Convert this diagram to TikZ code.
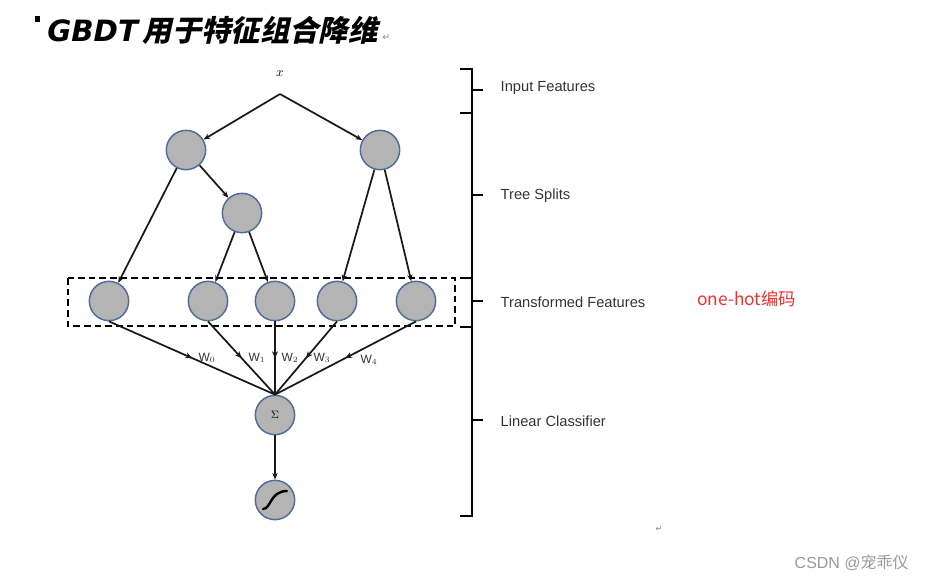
\documentclass[tikz,border=0pt]{standalone}
\usepackage{fontspec}
\setmainfont{Liberation Sans}
\newfontfamily\cjk{Noto Sans CJK SC}
\newfontfamily\titlefont{Noto Sans CJK SC}[FakeSlant=0.22]
\newfontfamily\symfont{DejaVu Sans}
\usetikzlibrary{arrows.meta,decorations.markings}
\definecolor{nodefill}{HTML}{B4B4B4}
\definecolor{nodeline}{HTML}{4F6D9A}
\definecolor{labtext}{HTML}{333333}
\definecolor{hotred}{HTML}{F03030}
\begin{document}
\begin{tikzpicture}[x=0.75pt,y=-0.75pt,
  neuron/.style={circle,draw=nodeline,fill=nodefill,line width=1.1pt,minimum size=29.5pt,inner sep=0pt},
  edge/.style={line width=1.3pt,draw=black!90,-{Stealth[length=5pt,width=4pt]}},
  wedge/.style={line width=1.3pt,draw=black!90,postaction={decorate},decoration={markings,mark=at position 0.5 with {\arrow{Stealth[length=5pt,width=4.5pt]}}}},
  brace/.style={line width=1.8pt},
  lab/.style={anchor=west,font=\fontsize{11pt}{13pt}\selectfont,text=labtext},
  wlab/.style={font=\fontsize{9pt}{10pt}\selectfont,text=labtext}]
\useasboundingbox (0,0) rectangle (925,583);
% title
\fill (35,16) rectangle (40,22);
\node[anchor=west,inner sep=0pt] (title) at (47,30) {\fontsize{22pt}{26pt}\selectfont{\symfont\bfseries\itshape GBDT}\,{\titlefont\bfseries 用于特征组合降维}};
\node[anchor=west,inner sep=0pt,text=gray] (ret1) at (382,38) {\symfont\fontsize{7pt}{8pt}\selectfont ↵};
% input
\node[inner sep=1pt] (xlab) at (280,74) {\fontsize{10pt}{11pt}\selectfont$x$};
\coordinate (apex) at (280,94);
% nodes
\node[neuron] (A) at (186,150) {};
\node[neuron] (B) at (380,150) {};
\node[neuron] (C) at (242,213) {};
\node[neuron] (L1) at (109,301) {};
\node[neuron] (L2) at (208,301) {};
\node[neuron] (L3) at (275,301) {};
\node[neuron] (L4) at (337,301) {};
\node[neuron] (L5) at (416,301) {};
\node[neuron] (S) at (275,415) {\fontsize{8.5pt}{9pt}\selectfont$\Sigma$};
\node[neuron] (G) at (275,500) {};
\draw[line width=1.8pt,line cap=round] (263,509) .. controls (271,509) and (270,491) .. (287,491);
% tree edges
\draw[edge] (apex) -- (A);
\draw[edge] (apex) -- (B);
\draw[edge] (A) -- (L1);
\draw[edge] (A) -- (C);
\draw[edge] (C) -- (L2);
\draw[edge] (C) -- (L3);
\draw[edge] (B) -- (L4);
\draw[edge] (B) -- (L5);
% dashed box
\draw[line width=1.4pt,dash pattern=on 5pt off 3pt] (68,278) rectangle (455,326);
% weights
\draw[wedge] (L1.south) -- (S.north);
\draw[wedge] (L2.south) -- (S.north);
\draw[wedge] (L3.south) -- (S.north);
\draw[wedge] (L4.south) -- (S.north);
\draw[wedge] (L5.south) -- (S.north);
\node[wlab] (w0) at (207,358) {W$_0$};
\node[wlab] (w1) at (257,358) {W$_1$};
\node[wlab] (w2) at (290,358) {W$_2$};
\node[wlab] (w3) at (322,358) {W$_3$};
\node[wlab] (w4) at (369,360) {W$_4$};
\draw[edge] (S) -- (G);
% braces
\draw[brace] (460,69) -- (472,69) -- (472,113) -- (460,113);
\draw[brace] (472,90) -- (483,90);
\draw[brace] (472,113) -- (472,278) -- (460,278);
\draw[brace] (472,195) -- (483,195);
\draw[brace] (472,278) -- (472,327) -- (460,327);
\draw[brace] (472,301) -- (483,301);
\draw[brace] (472,327) -- (472,516) -- (460,516);
\draw[brace] (472,420) -- (483,420);
\node[lab] (t1) at (496,88) {Input Features};
\node[lab] (t2) at (496,196) {Tree Splits};
\node[lab] (t3) at (496,302) {Transformed Features};
\node[lab] (t4) at (496,421) {Linear Classifier};
\node[anchor=west,text=hotred,inner sep=0pt] (hot) at (697,299) {\cjk\fontsize{13pt}{15pt}\selectfont one-hot编码};
\node[inner sep=0pt,text=gray] (ret2) at (659,529) {\symfont\fontsize{6pt}{7pt}\selectfont ↵};
\node[anchor=east,text=gray!80,inner sep=0pt] (csdn) at (909,563) {\fontsize{12pt}{14pt}\selectfont CSDN @{\cjk 宠乖仪}};
\end{tikzpicture}
\end{document}
